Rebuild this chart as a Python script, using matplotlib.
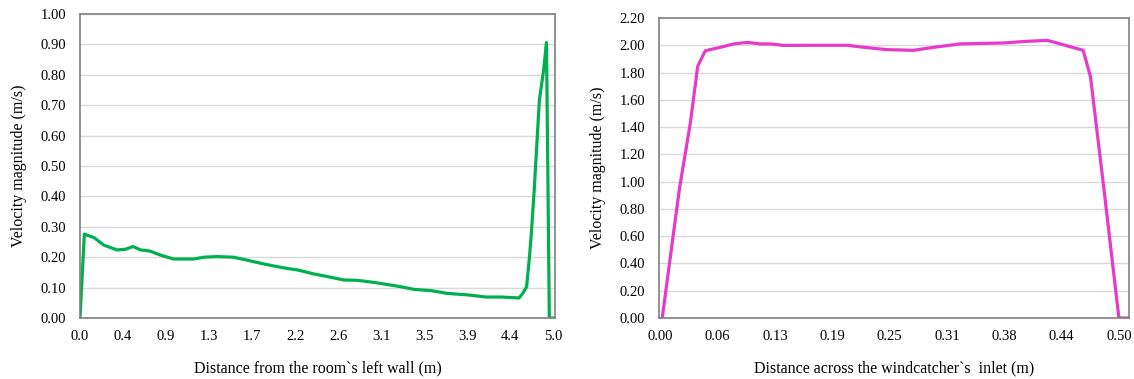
import matplotlib
matplotlib.use('Agg')
import matplotlib.pyplot as plt

plt.rcParams['font.family'] = ['Liberation Serif', 'DejaVu Serif']

# Левый график: скорость вдоль комнаты
x_room = [0.0, 0.046, 0.15, 0.25, 0.39, 0.48, 0.56, 0.64, 0.74, 0.85, 0.99, 1.2, 1.31, 1.45,
          1.62, 1.77, 1.91, 2.05, 2.19, 2.30, 2.47, 2.65, 2.79, 2.93, 3.11, 3.25, 3.39, 3.53,
          3.71, 3.88, 4.10, 4.29, 4.45, 4.64, 4.68, 4.72, 4.75, 4.77, 4.80, 4.855, 4.90, 4.93,
          4.96, 5.02]
v_room = [0.0, 0.276, 0.264, 0.24, 0.224, 0.226, 0.235, 0.224, 0.22, 0.207, 0.194, 0.194, 0.2,
          0.202, 0.2, 0.19, 0.18, 0.171, 0.163, 0.158, 0.145, 0.134, 0.125, 0.124, 0.117, 0.11,
          0.103, 0.094, 0.09, 0.081, 0.076, 0.069, 0.069, 0.066, 0.081, 0.103, 0.2, 0.279, 0.42,
          0.717, 0.816, 0.906, 0.0, 0.0]
room_ticks = ['0.0', '0.4', '0.9', '1.3', '1.7', '2.2', '2.6', '3.1', '3.5', '3.9', '4.4', '5.0']

# Правый график: скорость поперёк входа ветроуловителя
x_inlet = [0.002, 0.0207, 0.0327, 0.0407, 0.049, 0.0655, 0.08, 0.0946, 0.109, 0.12, 0.1345,
           0.167, 0.2037, 0.218, 0.247, 0.276, 0.298, 0.327, 0.3745, 0.40, 0.422, 0.436, 0.461,
           0.469, 0.4837, 0.50, 0.511]
v_inlet = [0.0, 0.944, 1.43, 1.846, 1.96, 1.985, 2.01, 2.021, 2.01, 2.01, 1.999, 2.0, 2.0,
           1.988, 1.968, 1.963, 1.985, 2.01, 2.017, 2.029, 2.036, 2.01, 1.963, 1.77, 0.944,
           0.0, 0.0]
inlet_ticks = ['0.00', '0.06', '0.13', '0.19', '0.25', '0.31', '0.38', '0.44', '0.50']

fig = plt.figure(figsize=(11.34, 3.79), dpi=100)
ax1 = fig.add_axes([80 / 1134, 1 - 318 / 379, 475 / 1134, 304 / 379])
ax2 = fig.add_axes([659 / 1134, 1 - 318 / 379, 470 / 1134, 300 / 379])


def style(ax):
    for s in ax.spines.values():
        s.set_color('#808080')
        s.set_linewidth(1.2)
    ax.grid(axis='y', color='#d9d9d9', linewidth=1.0)
    ax.set_axisbelow(True)
    ax.tick_params(length=0, labelsize=10.5, colors='black')
    ax.tick_params(axis='y', pad=10)
    ax.tick_params(axis='x', pad=9)


# Левый
ax1.plot(x_room, v_room, color='#00b050', linewidth=2.3, solid_joinstyle='round')
ax1.set_xlim(0, 5.02)
ax1.set_ylim(0, 1.0)
ax1.set_yticks([i / 10 for i in range(11)])
ax1.set_yticklabels(['%.2f' % (i / 10) for i in range(11)])
step = 5.0 / (len(room_ticks) - 1)
ax1.set_xticks([i * step for i in range(len(room_ticks))])
ax1.set_xticklabels(room_ticks)
ax1.set_xlabel('Distance from the room`s left wall (m)', fontsize=11.5, labelpad=12)
ax1.set_ylabel('Velocity magnitude (m/s)', fontsize=11.5, labelpad=10)
style(ax1)

# Правый
ax2.plot(x_inlet, v_inlet, color='#e63acb', linewidth=2.3, solid_joinstyle='round')
ax2.set_xlim(-0.0015, 0.511)
ax2.set_ylim(0, 2.2)
ax2.set_yticks([i * 0.2 for i in range(12)])
ax2.set_yticklabels(['%.2f' % (i * 0.2) for i in range(12)])
step2 = 0.5 / (len(inlet_ticks) - 1)
ax2.set_xticks([i * step2 for i in range(len(inlet_ticks))])
ax2.set_xticklabels(inlet_ticks)
ax2.set_xlabel('Distance across the windcatcher`s  inlet (m)', fontsize=11.5, labelpad=12)
ax2.set_ylabel('Velocity magnitude (m/s)', fontsize=11.5, labelpad=10)
style(ax2)

fig.savefig('out.png', dpi=100)
